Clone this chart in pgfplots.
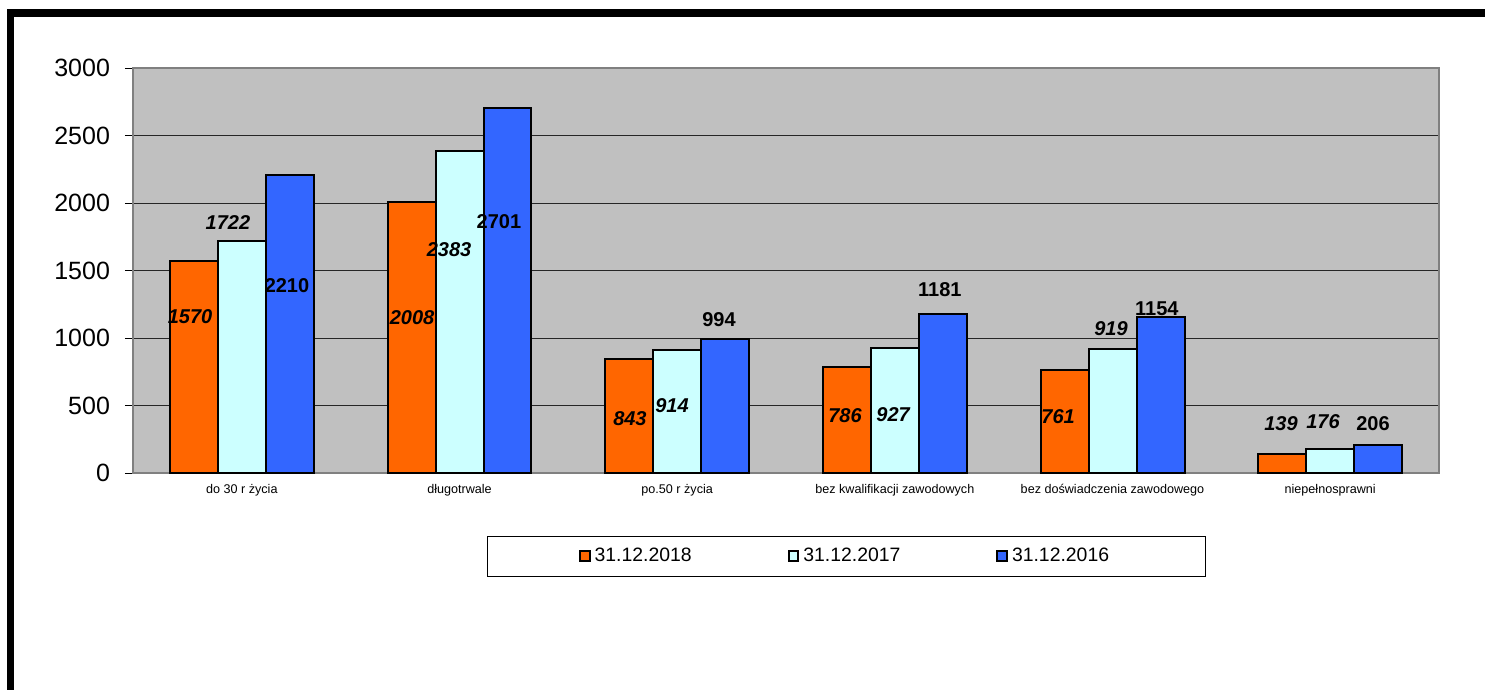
\documentclass[border=0pt]{standalone}
\usepackage{pgfplots}
\pgfplotsset{compat=1.18}
\usepackage{fontspec}
\setmainfont{Liberation Sans}
\definecolor{cOr}{HTML}{FF6600}
\definecolor{cCy}{HTML}{CCFFFF}
\definecolor{cBl}{HTML}{3366FF}
\definecolor{cBg}{HTML}{C0C0C0}
\definecolor{cFr}{HTML}{808080}
\begin{document}
\begin{tikzpicture}
\path[use as bounding box] (0pt,0pt) rectangle (742.5pt,-345pt);
\fill[black] (3.5pt,-4.5pt) rectangle (742.5pt,-8.3pt);
\fill[black] (3.5pt,-4.5pt) rectangle (7pt,-345pt);
\begin{axis}[
  at={(66.5pt,-236.5pt)}, anchor=south west,
  scale only axis, width=653pt, height=202.5pt,
  xmin=-0.5, xmax=5.5, ymin=0, ymax=3000,
  axis background/.style={fill=cBg},
  axis line style={cFr, line width=1pt},
  tick align=outside, tick pos=left,
  ytick={0,500,...,3000},
  ymajorgrids, grid style={black!85, line width=0.5pt},
  major tick style={black, line width=0.5pt},
  minor tick style={black, line width=0.5pt},
  y tick label style={font=\fontsize{12.5}{13}\selectfont, xshift=-4pt},
  /pgf/number format/assume math mode=true,
  /pgf/number format/1000 sep={},
  major tick length=4pt,
  xtick={0,...,5},
  x tick style={draw=none},
  xticklabels={do 30 r życia, długotrwale, po.50 r życia, bez kwalifikacji zawodowych, bez doświadczenia zawodowego, niepełnosprawni},
  x tick label style={font=\fontsize{6.3}{7}\selectfont, yshift=2pt},
  minor xtick={-0.5,0.5,...,5.5},
  minor tick length=2.5pt,
  legend columns=3,
  legend style={at={(0.546,-0.206)}, anchor=center, draw=black, line width=0.5pt,
    font=\fontsize{9.7}{10}\selectfont, inner xsep=46pt, inner ysep=4pt,
    /tikz/every even column/.append style={column sep=46pt}},
  legend image code/.code={\draw[#1, draw=black, line width=1pt] (0pt,-2.5pt) rectangle (4.8pt,2.5pt);},
  legend cell align=left,
]
\addplot[ybar, bar width=0.2205, bar shift=-0.2205, fill=cOr, draw=black, line width=1pt]
  coordinates {(0,1570) (1,2008) (2,843) (3,786) (4,761) (5,139)};
\addlegendentry{31.12.2018}
\addplot[ybar, bar width=0.2205, bar shift=0, fill=cCy, draw=black, line width=1pt]
  coordinates {(0,1722) (1,2383) (2,914) (3,927) (4,919) (5,176)};
\addlegendentry{31.12.2017}
\addplot[ybar, bar width=0.2205, bar shift=0.2205, fill=cBl, draw=black, line width=1pt]
  coordinates {(0,2210) (1,2701) (2,994) (3,1181) (4,1154) (5,206)};
\addlegendentry{31.12.2016}
% data labels
\addplot[forget plot, only marks, mark=none, nodes near coords, point meta=explicit symbolic,
  nodes near coords style={anchor=center, inner sep=0pt, font=\fontsize{10}{10}\selectfont\bfseries\itshape}]
  coordinates {(-0.238,1156)[1570] (0.782,1148)[2008] (1.783,400)[843] (2.771,422)[786] (3.75,415)[761] (4.774,363)[139]};
\addplot[forget plot, only marks, mark=none, nodes near coords, point meta=explicit symbolic,
  nodes near coords style={anchor=center, inner sep=0pt, font=\fontsize{10}{10}\selectfont\bfseries\itshape}]
  coordinates {(-0.064,1852)[1722] (0.952,1652)[2383] (1.976,496)[914] (2.992,430)[927] (3.993,1067)[919] (4.967,378)[176]};
\addplot[forget plot, only marks, mark=none, nodes near coords, point meta=explicit symbolic,
  nodes near coords style={anchor=center, inner sep=0pt, font=\fontsize{10}{10}\selectfont\bfseries}]
  coordinates {(0.2075,1385)[2210] (1.181,1859)[2701] (2.192,1133)[994] (3.207,1356)[1181] (4.204,1215)[1154] (5.197,363)[206]};
\end{axis}
\end{tikzpicture}
\end{document}
